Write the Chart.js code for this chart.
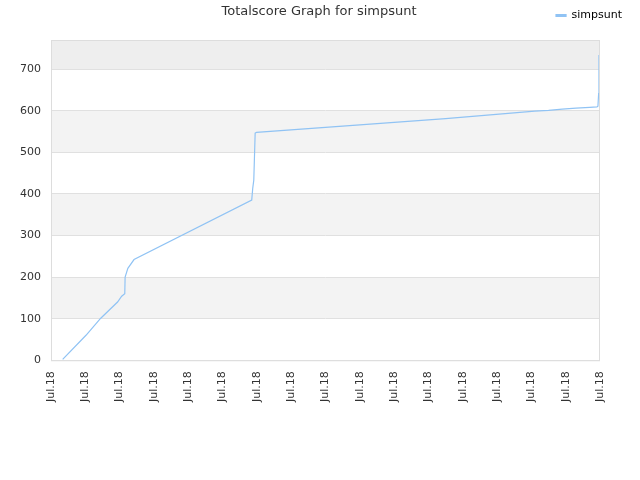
<!DOCTYPE html>
<html>
<head>
<meta charset="utf-8">
<script src="https://cdn.jsdelivr.net/npm/chart.js@4/dist/chart.umd.min.js"></script>
<style>
  html, body { margin: 0; padding: 0; background: #fff; }
  #wrap { width: 640px; height: 480px; }
</style>
</head>
<body>
<div id="wrap"><canvas id="scoreChart" width="640" height="480"></canvas></div>
<script>
// Tick labels on the time axis (all the same month)
const xTickLabels = ['Jul.18', 'Jul.18', 'Jul.18', 'Jul.18', 'Jul.18', 'Jul.18', 'Jul.18', 'Jul.18', 'Jul.18',
  'Jul.18', 'Jul.18', 'Jul.18', 'Jul.18', 'Jul.18', 'Jul.18', 'Jul.18', 'Jul.18'];

// Time positions (in tick units) and total score
const timePos = [0.34, 1.02, 1.45, 1.94, 2.06, 2.15, 2.16, 2.24, 2.42, 5.85, 5.88, 5.91, 5.95, 5.99,
  8.5, 11.5, 14.1, 14.5, 14.9, 15.3, 15.7, 15.91, 15.94, 15.96, 15.97];
const scores = [2, 60, 101, 140, 154, 160, 200, 221, 242, 385, 414, 433, 546, 548,
  563, 581, 599, 601, 604, 606, 608, 609, 611, 641, 734];

const yTicks = [0, 100, 200, 300, 400, 500, 600, 700];

const points = timePos.map((x, i) => ({ x: x, y: scores[i] }));

// Alternating background bands + thin frame around the plot
const bandsPlugin = {
  id: 'bands',
  beforeDraw(chart) {
    const { ctx, chartArea, scales } = chart;
    const y = scales.y;
    const band = (from, to, color) => {
      const top = y.getPixelForValue(to);
      const bottom = y.getPixelForValue(from);
      ctx.fillStyle = color;
      ctx.fillRect(chartArea.left, top, chartArea.right - chartArea.left, bottom - top);
    };
    ctx.save();
    band(100, 200, '#f3f3f3');
    band(300, 400, '#f3f3f3');
    band(500, 600, '#f3f3f3');
    band(700, y.max, '#eeeeee');
    ctx.restore();
  },
  afterDraw(chart) {
    const { ctx, chartArea } = chart;
    ctx.save();
    ctx.strokeStyle = '#dddddd';
    ctx.lineWidth = 1;
    ctx.strokeRect(chartArea.left + 0.5, chartArea.top + 0.5,
      chartArea.right - chartArea.left - 1, chartArea.bottom - chartArea.top);
    // title
    ctx.fillStyle = '#333333';
    ctx.font = '13px "DejaVu Sans", sans-serif';
    ctx.textAlign = 'center';
    ctx.textBaseline = 'middle';
    ctx.fillText('Totalscore Graph for simpsunt', 319, 12);
    ctx.restore();
  }
};

new Chart(document.getElementById('scoreChart'), {
  type: 'line',
  data: {
    datasets: [{
      label: 'simpsunt',
      data: points,
      xAxisID: 'x',
      yAxisID: 'y',
      borderColor: '#90c3f4',
      backgroundColor: '#90c3f4',
      borderWidth: 1.2,
      pointRadius: 0,
      fill: false,
      tension: 0
    }]
  },
  options: {
    responsive: false,
    animation: false,
    layout: { padding: { top: 0, right: 8, bottom: 75, left: 10 } },
    plugins: {
      title: { display: false },
      tooltip: { enabled: false },
      legend: {
        position: 'top',
        align: 'end',
        labels: {
          boxWidth: 10,
          boxHeight: 2,
          color: '#000',
          font: { family: '"DejaVu Sans", sans-serif', size: 11 },
          padding: 10
        }
      }
    },
    scales: {
      x: {
        type: 'linear',
        min: 0,
        max: 16,
        grid: { display: false },
        border: { display: false },
        ticks: {
          stepSize: 1,
          autoSkip: false,
          maxRotation: 90,
          minRotation: 90,
          color: '#333',
          font: { family: '"DejaVu Sans", sans-serif', size: 11 },
          callback: (v) => xTickLabels[v] || ''
        }
      },
      y: {
        min: 0,
        max: 770,
        afterBuildTicks: (axis) => { axis.ticks = yTicks.map(v => ({ value: v })); },
        grid: { color: '#e0e0e0', drawTicks: false },
        border: { display: false },
        ticks: {
          color: '#333',
          padding: 10,
          font: { family: '"DejaVu Sans", sans-serif', size: 11 }
        }
      },
      // empty spacer axes to push the plot frame in from the top and right
      xTop: {
        type: 'linear',
        position: 'top',
        grid: { display: false },
        border: { display: false },
        ticks: { display: false },
        afterFit: (axis) => { axis.height = 9; }
      },
      yRight: {
        type: 'linear',
        position: 'right',
        grid: { display: false },
        border: { display: false },
        ticks: { display: false },
        afterFit: (axis) => { axis.width = 32; }
      }
    }
  },
  plugins: [bandsPlugin]
});
</script>
</body>
</html>
